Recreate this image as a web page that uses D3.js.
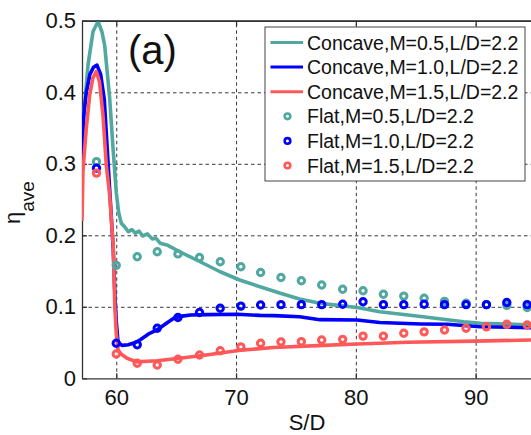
<!DOCTYPE html>
<html lang="en">
<head>
    <meta charset="UTF-8">
    <title>eta ave vs S/D</title>
    <style>
        body { margin: 0; background: #fff; }
        #chart { font-family: "Liberation Sans", Arial, sans-serif; }
        .grid line { stroke: #222; stroke-width: 0.9px; stroke-dasharray: 3.5,3; }
        .grid path { display: none; }
        .axis path, .axis line { stroke: #333; stroke-width: 1.3px; }
        .line { fill: none; stroke-width: 3.6px; stroke-linejoin: round; }
        .dot { fill: none; stroke-width: 3px; }
    </style>
    <script src="https://d3js.org/d3.v7.min.js"></script>
</head>
<body>
    <div id="chart"></div>
    <script>
        // tick values and labels
        const xTicks = [60, 70, 80, 90];
        const yTicks = [0, 0.1, 0.2, 0.3, 0.4, 0.5];
        const yLabels = ["0", "0.1", "0.2", "0.3", "0.4", "0.5"];

        // Concave curves, [S/D, eta_ave]
        const concave05 = [[57.14, 0.335], [57.3, 0.37], [57.64, 0.438], [58.06, 0.485], [58.48, 0.499],
            [58.8, 0.485], [59.03, 0.466], [59.45, 0.392], [59.73, 0.322], [60.0, 0.26], [60.2, 0.232],
            [60.42, 0.217], [60.7, 0.212], [61.0, 0.205], [61.3, 0.208], [61.6, 0.203], [61.9, 0.206],
            [62.2, 0.199], [62.6, 0.202], [63.0, 0.195], [63.3, 0.196], [63.66, 0.189], [64.3, 0.186],
            [65.3, 0.177], [67.0, 0.163], [68.67, 0.149], [70.3, 0.1375], [72.0, 0.128], [73.7, 0.119],
            [75.3, 0.111], [77.0, 0.105], [78.5, 0.102], [80.1, 0.099], [82.0, 0.093], [85.6, 0.086],
            [89.0, 0.079], [90.4, 0.077], [92.5, 0.076], [94.62, 0.0745]];
        const concave10 = [[57.14, 0.29], [57.22, 0.345], [57.3, 0.37], [57.5, 0.40], [57.8, 0.425],
            [58.1, 0.435], [58.39, 0.438], [58.7, 0.425], [59.0, 0.39], [59.25, 0.32], [59.5, 0.25],
            [59.75, 0.18], [59.9, 0.11], [60.0, 0.08], [60.15, 0.05], [60.5, 0.046], [61.0, 0.047],
            [61.6, 0.05], [62.0, 0.054], [62.7, 0.062], [63.4, 0.0676], [64.1, 0.076], [64.8, 0.084],
            [65.5, 0.087], [66.2, 0.0886], [67.6, 0.089], [70.1, 0.0895], [72.0, 0.088], [73.2, 0.0876],
            [75.3, 0.086], [77.0, 0.082], [80.1, 0.0815], [82.0, 0.078], [85.4, 0.076], [87.6, 0.0755],
            [90.4, 0.072], [94.62, 0.0708]];
        const concave15 = [[57.14, 0.22], [57.22, 0.29], [57.5, 0.35], [57.78, 0.396], [58.05, 0.42],
            [58.33, 0.429], [58.6, 0.415], [58.89, 0.368], [59.17, 0.298], [59.45, 0.256], [59.75, 0.184],
            [59.88, 0.1], [60.0, 0.063], [60.15, 0.04], [60.4, 0.034], [60.9, 0.028], [61.7, 0.023],
            [63.4, 0.0246], [65.3, 0.028], [67.5, 0.0326], [70.2, 0.039], [73.1, 0.043], [77.3, 0.046],
            [80.1, 0.048], [82.0, 0.049], [84.3, 0.0505], [89.9, 0.052], [94.62, 0.0536]];

        // Flat markers
        const flatX = [58.35, 60.0, 61.75, 63.42, 65.15, 66.95, 68.68, 70.4, 72.05, 73.75, 75.45,
            77.15, 78.9, 80.6, 82.3, 84.0, 85.7, 87.4, 89.2, 90.9, 92.6, 94.3];
        const flat05 = [0.303, 0.158, 0.170, 0.177, 0.174, 0.169, 0.163, 0.156, 0.148, 0.141, 0.1365,
            0.1305, 0.1245, 0.1225, 0.1175, 0.115, 0.112, 0.1075, 0.105, 0.103, 0.102, 0.099];
        const flat10 = [0.294, 0.049, 0.047, 0.070, 0.085, 0.092, 0.098, 0.101, 0.1025, 0.103, 0.103,
            0.103, 0.1035, 0.107, 0.103, 0.103, 0.1035, 0.103, 0.103, 0.103, 0.106, 0.103];
        const flat15 = [0.287, 0.034, 0.021, 0.0186, 0.0266, 0.0326, 0.0386, 0.044, 0.049, 0.051, 0.0512,
            0.0536, 0.0545, 0.059, 0.059, 0.063, 0.065, 0.0675, 0.070, 0.072, 0.0755, 0.0745];

        const legendLabels = ["Concave,M=0.5,L/D=2.2", "Concave,M=1.0,L/D=2.2", "Concave,M=1.5,L/D=2.2",
            "Flat,M=0.5,L/D=2.2", "Flat,M=1.0,L/D=2.2", "Flat,M=1.5,L/D=2.2"];
        const colors = ["#50a8a1", "#0000ff", "#ff5858"];

        const W = 531, H = 435;
        const pLeft = 82, pRight = 531, pTop = 20.8, pBottom = 378.3;

        const svg = d3.select("#chart").append("svg")
            .attr("width", W).attr("height", H);

        const x = d3.scaleLinear().domain([57.14, 94.62]).range([pLeft, pRight]);
        const y = d3.scaleLinear().domain([0, 0.5]).range([pBottom, pTop]);

        // dashed grid
        svg.append("g").attr("class", "grid")
            .attr("transform", `translate(0,${pBottom})`)
            .call(d3.axisBottom(x).tickValues(xTicks).tickSize(-(pBottom - pTop)).tickFormat(""));
        svg.append("g").attr("class", "grid")
            .attr("transform", `translate(${pLeft},0)`)
            .call(d3.axisLeft(y).tickValues([0.1, 0.2, 0.3, 0.4]).tickSize(-(pRight - pLeft)).tickFormat(""));

        // axes with inward ticks
        const xAxis = svg.append("g").attr("class", "axis")
            .attr("transform", `translate(0,${pBottom})`)
            .call(d3.axisBottom(x).tickValues(xTicks).tickSize(-5).tickSizeOuter(0).tickPadding(11));
        svg.append("g").attr("class", "axis")
            .attr("transform", `translate(0,${pTop})`)
            .call(d3.axisTop(x).tickValues(xTicks).tickSize(-5).tickSizeOuter(0).tickFormat(""));
        const yAxis = svg.append("g").attr("class", "axis")
            .attr("transform", `translate(${pLeft},0)`)
            .call(d3.axisLeft(y).tickValues(yTicks).tickSize(-5).tickSizeOuter(0).tickPadding(6)
                .tickFormat((d, i) => yLabels[i]));

        svg.selectAll(".axis text")
            .style("font-family", "'Liberation Sans', Arial, sans-serif")
            .style("font-size", "22px")
            .attr("fill", "#111");
        xAxis.selectAll("text").attr("dy", "0.71em");

        // axis titles
        svg.append("text")
            .attr("x", (pLeft + pRight) / 2 + 0.5)
            .attr("y", 430)
            .attr("text-anchor", "middle")
            .style("font-size", "22px")
            .attr("fill", "#111")
            .text("S/D");

        const yt = svg.append("text")
            .attr("transform", "translate(20,224) rotate(-90)")
            .attr("fill", "#111");
        yt.append("tspan").style("font-size", "22px").text("η");
        yt.append("tspan").attr("dy", 14).style("font-size", "19px").text("ave");

        // clip to the axes box
        svg.append("clipPath").attr("id", "clip")
            .append("rect").attr("x", pLeft).attr("y", pTop - 2)
            .attr("width", pRight - pLeft).attr("height", pBottom - pTop + 2);

        const plot = svg.append("g").attr("clip-path", "url(#clip)");

        const line = d3.line().x(d => x(d[0])).y(d => y(d[1]));

        [concave05, concave10, concave15].forEach((s, i) => {
            plot.append("path").attr("class", "line")
                .attr("d", line(s))
                .attr("stroke", colors[i]);
        });

        [flat05, flat10, flat15].forEach((s, i) => {
            plot.selectAll(".dot" + i)
                .data(s)
                .enter().append("circle")
                .attr("class", "dot dot" + i)
                .attr("cx", (d, j) => x(flatX[j]))
                .attr("cy", d => y(d))
                .attr("r", 3.2)
                .attr("stroke", colors[i]);
        });

        // top border
        svg.append("line").attr("x1", pLeft).attr("x2", pRight).attr("y1", pTop).attr("y2", pTop)
            .attr("stroke", "#333").attr("stroke-width", 1.3);

        // panel label
        svg.append("text")
            .attr("x", 128).attr("y", 64)
            .style("font-size", "40px")
            .attr("fill", "#111")
            .text("(a)");

        // legend
        const lx = 265, ly = 27, lw = 260, lh = 154, rowH = 24.6;
        const legend = svg.append("g");
        legend.append("rect")
            .attr("x", lx).attr("y", ly).attr("width", lw).attr("height", lh)
            .attr("fill", "#fff").attr("stroke", "#444").attr("stroke-width", 1);

        const rows = legend.selectAll(".row")
            .data(legendLabels)
            .enter().append("g")
            .attr("class", "row")
            .attr("transform", (d, i) => `translate(0,${ly + 15.5 + i * rowH})`);

        rows.filter((d, i) => i < 3).append("line")
            .attr("x1", 270.5).attr("x2", 303)
            .attr("y1", 0).attr("y2", 0)
            .attr("stroke", (d, i) => colors[i])
            .attr("stroke-width", 3);

        rows.filter((d, i) => i >= 3).append("circle")
            .attr("cx", 287.5).attr("cy", 0).attr("r", 2.8)
            .attr("fill", "none")
            .attr("stroke", (d, i) => colors[i])
            .attr("stroke-width", 2.6);

        rows.append("text")
            .attr("x", 307)
            .attr("y", 0)
            .attr("dy", "0.36em")
            .style("font-size", "19.5px")
            .attr("fill", "#111")
            .text(d => d);
    </script>
</body>
</html>
